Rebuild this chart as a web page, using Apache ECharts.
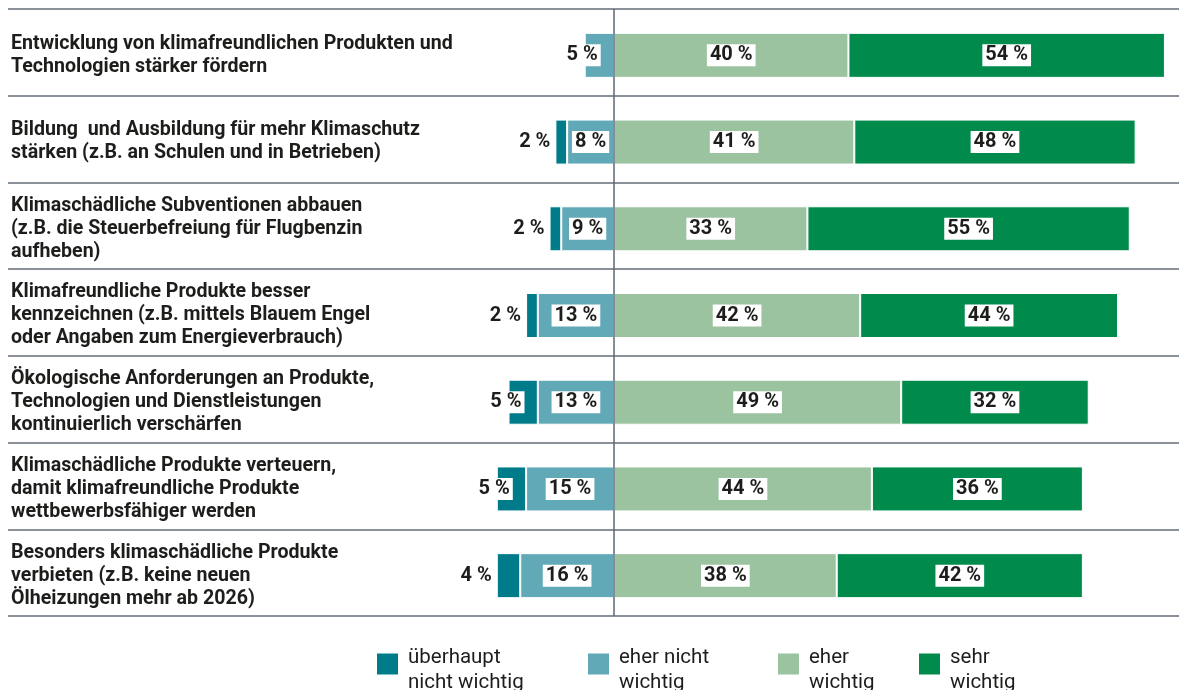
<!DOCTYPE html>
<html lang="de">
<head>
<meta charset="utf-8">
<title>Maßnahmen für klimafreundliche Produkte</title>
<script src="https://cdn.jsdelivr.net/npm/echarts@6/dist/echarts.min.js"></script>
<style>
  html, body { margin: 0; padding: 0; background: #ffffff; }
  #chart { width: 1179px; height: 690px; }
</style>
</head>
<body>
<div id="chart"></div>
<script>
// Categories (top to bottom)
const categories = [
  'Entwicklung von klimafreundlichen Produkten und\nTechnologien stärker fördern',
  'Bildung  und Ausbildung für mehr Klimaschutz\nstärken (z.B. an Schulen und in Betrieben)',
  'Klimaschädliche Subventionen abbauen\n(z.B. die Steuerbefreiung für Flugbenzin\naufheben)',
  'Klimafreundliche Produkte besser\nkennzeichnen (z.B. mittels Blauem Engel\noder Angaben zum Energieverbrauch)',
  'Ökologische Anforderungen an Produkte,\nTechnologien und Dienstleistungen\nkontinuierlich verschärfen',
  'Klimaschädliche Produkte verteuern,\ndamit klimafreundliche Produkte\nwettbewerbsfähiger werden',
  'Besonders klimaschädliche Produkte\nverbieten (z.B. keine neuen\nÖlheizungen mehr ab 2026)'
];

// Shares in percent
const ueberhauptNichtWichtig = [null, 2, 2, 2, 5, 5, 4];
const eherNichtWichtig       = [5, 8, 9, 13, 13, 15, 16];
const eherWichtig            = [40, 41, 33, 42, 49, 44, 38];
const sehrWichtig            = [54, 48, 55, 44, 32, 36, 42];

const seriesNames = ['überhaupt nicht wichtig', 'eher nicht wichtig', 'eher wichtig', 'sehr wichtig'];
const legendLines = [
  ['überhaupt', 'nicht wichtig'],
  ['eher nicht', 'wichtig'],
  ['eher', 'wichtig'],
  ['sehr', 'wichtig']
];

const colors = {
  ueberhaupt: '#007b8a',
  eherNicht: '#62a9b7',
  eher: '#9bc39f',
  sehr: '#008a4c'
};

const FONT = 'Roboto, "Noto Sans", sans-serif';
const TEXT = '#1d1d1b';

const X_MIN = -103.4;
const X_MAX = 96.4;

const valueLabel = {
  show: true,
  position: 'inside',
  formatter: p => Math.abs(p.value) + ' %',
  color: TEXT,
  fontFamily: FONT,
  fontWeight: 'bold',
  fontSize: 20,
  backgroundColor: '#ffffff',
  padding: [2, 3, 0, 3]
};

// The outermost segment on the negative side carries its label at the left end
function outerLabel(v) {
  return {
    position: 'left',
    distance: v >= 5 ? -16 : 2
  };
}

function negItems(values, isOuter) {
  return values.map((v, i) => {
    if (v == null) return null;
    const item = { value: -v };
    if (isOuter(i)) item.label = outerLabel(v);
    return item;
  });
}

const barBase = {
  type: 'bar',
  stack: 'total',
  barWidth: 45,
  xAxisIndex: 0,
  yAxisIndex: 0,
  itemStyle: { borderColor: '#ffffff', borderWidth: 1 },
  label: valueLabel,
  emphasis: { disabled: true }
};

const chart = echarts.init(document.getElementById('chart'), null, { renderer: 'canvas' });

const legendLefts = [375, 586, 776, 917];

chart.setOption({
  animation: false,
  backgroundColor: '#ffffff',
  grid: [
    // bars and row labels
    { left: 8, right: 0, top: 12, bottom: 71 },
    // row separators and zero line
    { left: 8, right: 0, top: 9, bottom: 74 }
  ],
  xAxis: [
    { gridIndex: 0, type: 'value', min: X_MIN, max: X_MAX, show: false },
    { gridIndex: 1, type: 'value', min: X_MIN, max: X_MAX, show: false }
  ],
  yAxis: [
    {
      gridIndex: 0,
      type: 'category',
      inverse: true,
      data: categories,
      axisLine: { show: false },
      axisTick: { show: false },
      splitLine: { show: false },
      axisLabel: {
        inside: true,
        margin: 3,
        align: 'left',
        color: TEXT,
        fontFamily: FONT,
        fontWeight: 'bold',
        fontSize: 19.6,
        lineHeight: 23
      }
    },
    {
      gridIndex: 1,
      type: 'category',
      inverse: true,
      data: categories,
      axisLine: { show: false },
      axisTick: { show: false },
      axisLabel: { show: false },
      splitLine: { show: true, lineStyle: { color: '#8a9198', width: 2 } }
    }
  ],
  legend: seriesNames.map((name, i) => ({
    data: [name],
    left: legendLefts[i],
    top: 637,
    padding: 0,
    icon: 'rect',
    itemWidth: 23,
    itemHeight: 23,
    selectedMode: false,
    // a short spacer line sets the text a little below the swatch
    formatter: () => '{s| }\n{t|' + legendLines[i][0] + '}\n{t|' + legendLines[i][1] + '}',
    textStyle: {
      color: TEXT,
      fontFamily: FONT,
      fontSize: 20.5,
      padding: [0, 0, 0, 4],
      rich: {
        s: { fontSize: 4, lineHeight: 13 },
        t: { color: TEXT, fontFamily: FONT, fontSize: 20.5, lineHeight: 25 }
      }
    }
  })),
  series: [
    Object.assign({}, barBase, {
      name: seriesNames[1],
      itemStyle: Object.assign({}, barBase.itemStyle, { color: colors.eherNicht }),
      data: negItems(eherNichtWichtig, i => ueberhauptNichtWichtig[i] == null)
    }),
    Object.assign({}, barBase, {
      name: seriesNames[0],
      itemStyle: Object.assign({}, barBase.itemStyle, { color: colors.ueberhaupt }),
      data: negItems(ueberhauptNichtWichtig, () => true)
    }),
    Object.assign({}, barBase, {
      name: seriesNames[2],
      itemStyle: Object.assign({}, barBase.itemStyle, { color: colors.eher }),
      data: eherWichtig
    }),
    Object.assign({}, barBase, {
      name: seriesNames[3],
      itemStyle: Object.assign({}, barBase.itemStyle, { color: colors.sehr }),
      data: sehrWichtig
    }),
    // zero line across the full height of the rows
    {
      type: 'line',
      xAxisIndex: 1,
      yAxisIndex: 1,
      data: [],
      silent: true,
      markLine: {
        silent: true,
        symbol: 'none',
        label: { show: false },
        lineStyle: { color: '#5d6873', width: 1.5, type: 'solid' },
        data: [{ xAxis: 0 }]
      }
    }
  ]
});
</script>
</body>
</html>
